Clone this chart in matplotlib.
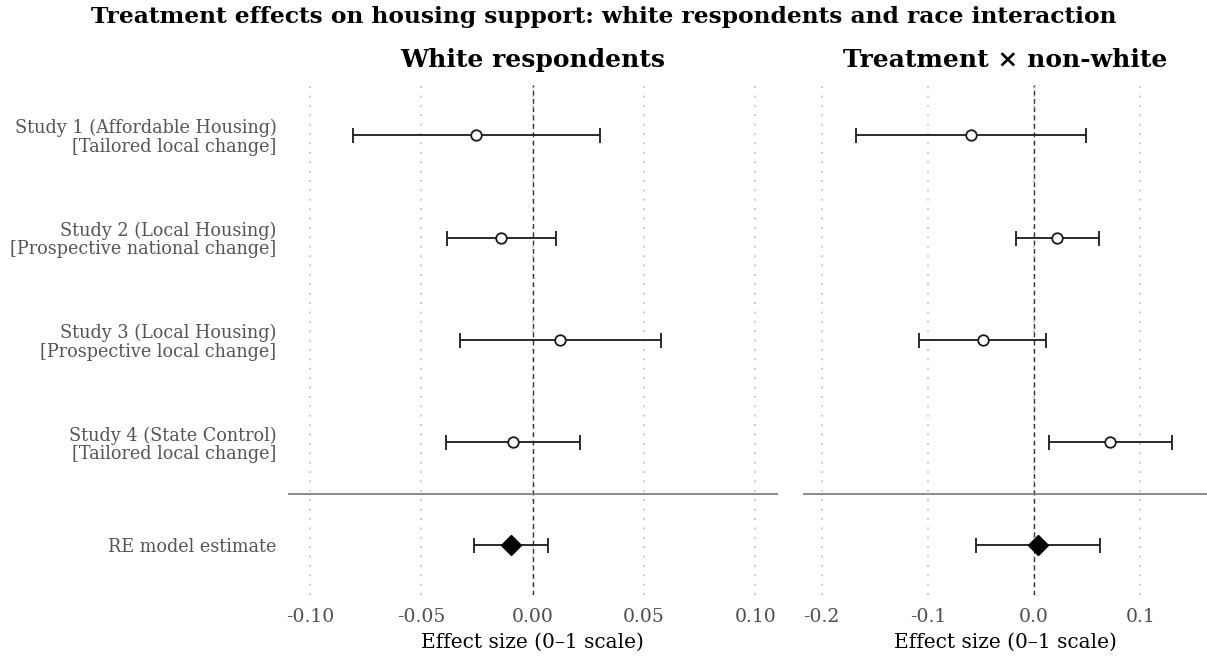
import matplotlib
matplotlib.use("Agg")
import matplotlib.pyplot as plt

plt.rcParams['font.family'] = ['DejaVu Serif']

# Study labels (top to bottom)
study_labels = [
    "Study 1 (Affordable Housing)\n[Tailored local change]",
    "Study 2 (Local Housing)\n[Prospective national change]",
    "Study 3 (Local Housing)\n[Prospective local change]",
    "Study 4 (State Control)\n[Tailored local change]",
]
pooled_label = "RE model estimate"

# White respondents: point estimates and 95% intervals
white_est = [-0.0253, -0.0142, 0.0124, -0.0088]
white_lo = [-0.0807, -0.0386, -0.0327, -0.0391]
white_hi = [0.0302, 0.0103, 0.0575, 0.0212]
white_re_est, white_re_lo, white_re_hi = -0.0099, -0.0265, 0.0067

# Treatment x non-white interaction
inter_est = [-0.0596, 0.0219, -0.0486, 0.0715]
inter_lo = [-0.1676, -0.0169, -0.1085, 0.0135]
inter_hi = [0.0490, 0.0608, 0.0113, 0.1300]
inter_re_est, inter_re_lo, inter_re_hi = 0.0038, -0.0546, 0.0621

white_ticks = [-0.10, -0.05, 0.00, 0.05, 0.10]
white_ticklabels = ["-0.10", "-0.05", "0.00", "0.05", "0.10"]
inter_ticks = [-0.2, -0.1, 0.0, 0.1]
inter_ticklabels = ["-0.2", "-0.1", "0.0", "0.1"]

W, H = 1207, 659
fig = plt.figure(figsize=(W / 100, H / 100), dpi=100)

ax_bottom = (H - 595) / H
ax_height = 510 / H
ax1 = fig.add_axes([287.7 / W, ax_bottom, 490 / W, ax_height])
ax2 = fig.add_axes([803 / W, ax_bottom, 404 / W, ax_height])

n = len(study_labels)
study_y = [n + 1 - i for i in range(n)]  # 5, 4, 3, 2
re_y = 1

line_col = "#1a1a1a"


def draw_panel(ax, est, lo, hi, re_est, re_lo, re_hi, ticks, ticklabels, xlim, title):
    ax.set_xlim(*xlim)
    ax.set_ylim(0.51, 5.49)
    for s in ax.spines.values():
        s.set_visible(False)
    for t in ticks:
        ax.axvline(t, color="#c4c4c4", lw=1.3, ls=(0, (1, 4.2)), zorder=0)
    ax.axvline(0, color="#333333", lw=1.0, ls=(0, (3.5, 2.5)), zorder=1)
    ax.axhline(1.5, color="#777777", lw=1.2, zorder=1)

    xerr = [[e - l for e, l in zip(est, lo)], [h - e for e, h in zip(est, hi)]]
    ax.errorbar(est, study_y, xerr=xerr, fmt="none", ecolor=line_col,
                elinewidth=1.3, capsize=5.4, capthick=1.3, zorder=2)
    ax.plot(est, study_y, "o", ms=7.6, mfc="white", mec=line_col, mew=1.3,
            zorder=3, ls="none")
    ax.errorbar([re_est], [re_y], xerr=[[re_est - re_lo], [re_hi - re_est]],
                fmt="none", ecolor=line_col, elinewidth=1.3, capsize=5.4,
                capthick=1.3, zorder=2)
    ax.plot([re_est], [re_y], "D", ms=10.5, mfc="black", mec="black",
            zorder=3, ls="none")

    ax.set_xticks(ticks)
    ax.set_xticklabels(ticklabels)
    ax.tick_params(axis="x", length=0, pad=9.5, labelsize=13.5, labelcolor="#4d4d4d")
    ax.set_xlabel("Effect size (0\u20131 scale)", fontsize=14.5, color="black",
                  labelpad=4.5)
    ax.set_title(title, fontsize=18, fontweight="bold", pad=13)


draw_panel(ax1, white_est, white_lo, white_hi, white_re_est, white_re_lo,
           white_re_hi, white_ticks, white_ticklabels, (-0.110, 0.110),
           "White respondents")
draw_panel(ax2, inter_est, inter_lo, inter_hi, inter_re_est, inter_re_lo,
           inter_re_hi, inter_ticks, inter_ticklabels, (-0.2175, 0.1626),
           "Treatment \u00d7 non-white")

ax1.set_yticks(study_y + [re_y])
ax1.set_yticklabels(study_labels + [pooled_label])
ax1.tick_params(axis="y", length=0, pad=8, labelsize=12.7, labelcolor="#555555")
for lbl in ax1.get_yticklabels():
    lbl.set_multialignment("right")
    lbl.set_linespacing(1.05)
ax2.set_yticks([])

fig.text(0.5, 1 - 23 / H,
         "Treatment effects on housing support: white respondents and race interaction",
         ha="center", va="baseline", fontsize=16.8, fontweight="bold")

fig.savefig("out.png", dpi=100)
